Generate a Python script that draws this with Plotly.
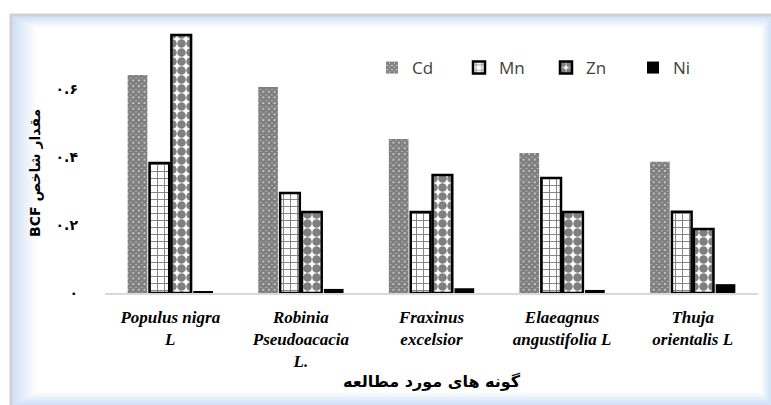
import plotly.graph_objects as go

# ---------------- data ----------------
species = ["Populus nigra<br>L", "Robinia<br>Pseudoacacia<br>L.", "Fraxinus<br>excelsior",
           "Elaeagnus<br>angustifolia L", "Thuja<br>orientalis L"]
cd = [0.641, 0.606, 0.453, 0.412, 0.386]
mn = [0.382, 0.294, 0.238, 0.338, 0.239]
zn = [0.759, 0.238, 0.347, 0.238, 0.188]
ni = [0.005, 0.012, 0.014, 0.009, 0.026]
tick_vals = [0, 0.2, 0.4, 0.6]
tick_text = ["۰", "۰.۲", "۰.۴", "۰.۶"]
y_title = "BCF مقدار شاخص"
x_title = "گونه های مورد مطالعه"

# ---------------- layout geometry (px) ----------------
W, H = 771, 405
L, R, T, B = 105, 13, 21, 112
PW, PH = W - L - R, H - T - B


def px_x(p):
    return (p - L) / PW


def px_y(p):
    return (H - B - p) / PH


fig = go.Figure()
fig.add_trace(go.Bar(
    name="Cd", x=species, y=cd,
    marker=dict(color="white", line=dict(width=0),
                pattern=dict(shape="x", fgcolor="black", size=4, solidity=0.9))))
fig.add_trace(go.Bar(
    name="Mn", x=species, y=mn,
    marker=dict(color="white", line=dict(width=2.5, color="black"),
                pattern=dict(shape="+", fgcolor="black", size=7, solidity=0.25))))
fig.add_trace(go.Bar(
    name="Zn", x=species, y=zn,
    marker=dict(color="white", line=dict(width=2.5, color="black"),
                pattern=dict(shape=".", fgcolor="black", size=9, solidity=0.7))))
fig.add_trace(go.Bar(
    name="Ni", x=species, y=ni,
    marker=dict(color="black", line=dict(width=0))))

# frame with soft blue inner glow
shapes = [dict(type="rect", xref="paper", yref="paper", layer="below",
               x0=px_x(11), x1=px_x(780), y0=px_y(15), y1=px_y(415),
               line=dict(color="#d0d0d0", width=3), fillcolor="#d3e2f6")]
base = (0xd3, 0xe2, 0xf6)
n = 8
for k in range(1, n + 1):
    t = k / n
    c = tuple(int(round(b + (255 - b) * t)) for b in base)
    shapes.append(dict(type="rect", xref="paper", yref="paper", layer="below",
                       x0=px_x(13 + 2.8 * k), x1=px_x(771 - 1.2 * k),
                       y0=px_y(17 + 1.3 * k), y1=px_y(405 - 1.6 * k),
                       line=dict(width=0), fillcolor="rgb(%d,%d,%d)" % c))

annotations = [
    dict(text=y_title, xref="paper", yref="paper", x=px_x(35), y=px_y(173),
         textangle=-90, showarrow=False, xanchor="center", yanchor="middle",
         font=dict(family="DejaVu Sans", size=14, color="black", weight="bold")),
    dict(text=x_title, xref="paper", yref="paper", x=0.5, y=px_y(381),
         showarrow=False, xanchor="center", yanchor="middle",
         font=dict(family="DejaVu Sans", size=16, color="black", weight="bold")),
]

fig.update_layout(
    width=W, height=H,
    margin=dict(l=L, r=R, t=T, b=B),
    paper_bgcolor="white", plot_bgcolor="rgba(0,0,0,0)",
    barmode="group", bargap=0.33, bargroupgap=0.1,
    shapes=shapes, annotations=annotations,
    showlegend=True,
    legend=dict(orientation="h", xref="paper", yref="paper",
                x=px_x(372), y=px_y(68), xanchor="left", yanchor="middle",
                entrywidth=42, entrywidthmode="pixels",
                bgcolor="rgba(0,0,0,0)", borderwidth=0,
                font=dict(family="Open Sans", size=17, color="#404040")),
    xaxis=dict(showgrid=False, zeroline=False, showline=True, linecolor="#d9d9d9",
               linewidth=1.5, ticks="", ticklabelstandoff=8,
               tickfont=dict(family="Liberation Serif", size=17, color="black",
                             weight="bold", style="italic")),
    yaxis=dict(range=[0, 0.8], showgrid=False, zeroline=False, showline=False,
               tickvals=tick_vals, ticktext=tick_text, ticks="",
               ticklabelstandoff=26,
               tickfont=dict(family="DejaVu Sans", size=14, color="black", weight="bold")),
)

fig.write_html(
    "out.html",
    config={"displayModeBar": False},
    post_script="document.body.style.margin='0';document.body.style.overflow='hidden';",
)
